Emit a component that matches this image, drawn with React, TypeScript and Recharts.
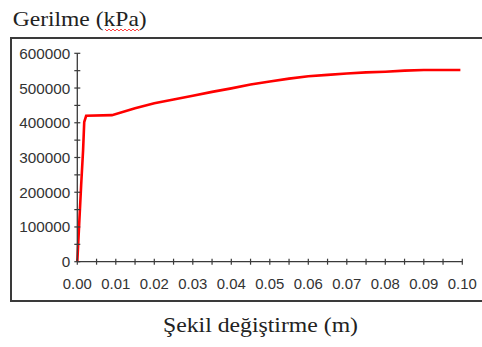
import { LineChart, Line, XAxis, YAxis } from "recharts";

// strain (m) vs stress (kPa)
const strain = [0, 0.0005, 0.001, 0.0015, 0.0018, 0.0023, 0.009, 0.015, 0.02, 0.025, 0.03, 0.035, 0.04, 0.045, 0.05, 0.055, 0.06, 0.065, 0.07, 0.075, 0.08, 0.085, 0.09, 0.095, 0.0995];
const stress = [0, 110000, 220000, 320000, 402000, 420000, 422000, 442000, 456000, 467000, 478000, 489000, 499000, 510000, 519000, 527000, 534000, 538000, 542000, 545000, 547000, 550000, 552000, 552000, 552000];

// major ticks get a label, minor ones just a mark
const xTicks = [0, 0.005, 0.01, 0.015, 0.02, 0.025, 0.03, 0.035, 0.04, 0.045, 0.05, 0.055, 0.06, 0.065, 0.07, 0.075, 0.08, 0.085, 0.09, 0.095, 0.1];
const yTicks = [0, 50000, 100000, 150000, 200000, 250000, 300000, 350000, 400000, 450000, 500000, 550000, 600000];

const yTitle = "Gerilme (kPa)";
const xTitle = "Şekil değiştirme (m)";

const data = strain.map((s, i) => ({ s, p: stress[i] }));

const AXIS = "#3a3a3a";
const TICK_FONT = "Liberation Sans, Arial, sans-serif";
const SERIF = "Liberation Serif, DejaVu Serif, Times New Roman, serif";

function XTick({ x, y, payload }: any) {
  const v = payload.value as number;
  const major = Math.round(v * 1000) % 10 === 0;
  return (
    <g>
      <line x1={x} x2={x} y1={y - 3} y2={y + 3} stroke={AXIS} strokeWidth={1.2} />
      {major && (
        <text x={x} y={y + 27} textAnchor="middle" fontSize={14} fontFamily={TICK_FONT} fill="#333"
          textLength={29} lengthAdjust="spacingAndGlyphs">
          {v.toFixed(2)}
        </text>
      )}
    </g>
  );
}

function YTick({ x, y, payload }: any) {
  const v = payload.value as number;
  const major = v % 100000 === 0;
  const label = String(v);
  return (
    <g>
      <line x1={x - 3} x2={x + 3} y1={y} y2={y} stroke={AXIS} strokeWidth={1.2} />
      {major && (
        <text x={x - 7} y={y + 5.5} textAnchor="end" fontSize={14} fontFamily={TICK_FONT} fill="#333"
          textLength={label.length * 8.5} lengthAdjust="spacingAndGlyphs">
          {label}
        </text>
      )}
    </g>
  );
}

export default function App() {
  return (
    <div style={{ position: "absolute", left: 0, top: 0, width: 482, height: 347, background: "#fff", overflow: "hidden" }}>
      <div style={{ position: "absolute", left: 10, top: 37, width: 490, height: 261, border: `2px solid ${AXIS}` }} />
      <div style={{ position: "absolute", left: 0, top: 0 }}>
        <LineChart width={482} height={347} data={data} margin={{ top: 53.3, right: 19.7, bottom: 84.3, left: 76.3 }}>
          <XAxis
            dataKey="s"
            type="number"
            domain={[0, 0.1]}
            ticks={xTicks}
            height={1}
            tickSize={0}
            tickMargin={0}
            interval={0}
            axisLine={{ stroke: AXIS, strokeWidth: 1.3 }}
            tick={<XTick />}
          />
          <YAxis
            type="number"
            domain={[0, 600000]}
            ticks={yTicks}
            width={1}
            tickSize={0}
            tickMargin={0}
            interval={0}
            axisLine={{ stroke: AXIS, strokeWidth: 1.3 }}
            tick={<YTick />}
          />
          <Line dataKey="p" type="linear" stroke="#ff0000" strokeWidth={2.6} dot={false} isAnimationActive={false} />
        </LineChart>
      </div>
      {/* titles sit outside the framed plot */}
      <svg style={{ position: "absolute", left: 0, top: 0, pointerEvents: "none" }} width={482} height={347}>
        <text x={12.7} y={25.5} fontSize={22} fontFamily={SERIF} fill="#222" textLength={134} lengthAdjust="spacingAndGlyphs">
          {yTitle}
        </text>
        <path d="M105 29 L107 31 L109 29 L111 31 L113 29 L115 31 L117 29 L119 31 L121 29 L123 31 L125 29 L127 31 L129 29 L131 31 L133 29 L135 31 L137 29 L139 31"
          stroke="#ff3030" strokeWidth={0.9} fill="none" />
        <text x={260.5} y={332} textAnchor="middle" fontSize={22} fontFamily={SERIF} fill="#222" textLength={195} lengthAdjust="spacingAndGlyphs">
          {xTitle}
        </text>
      </svg>
    </div>
  );
}
